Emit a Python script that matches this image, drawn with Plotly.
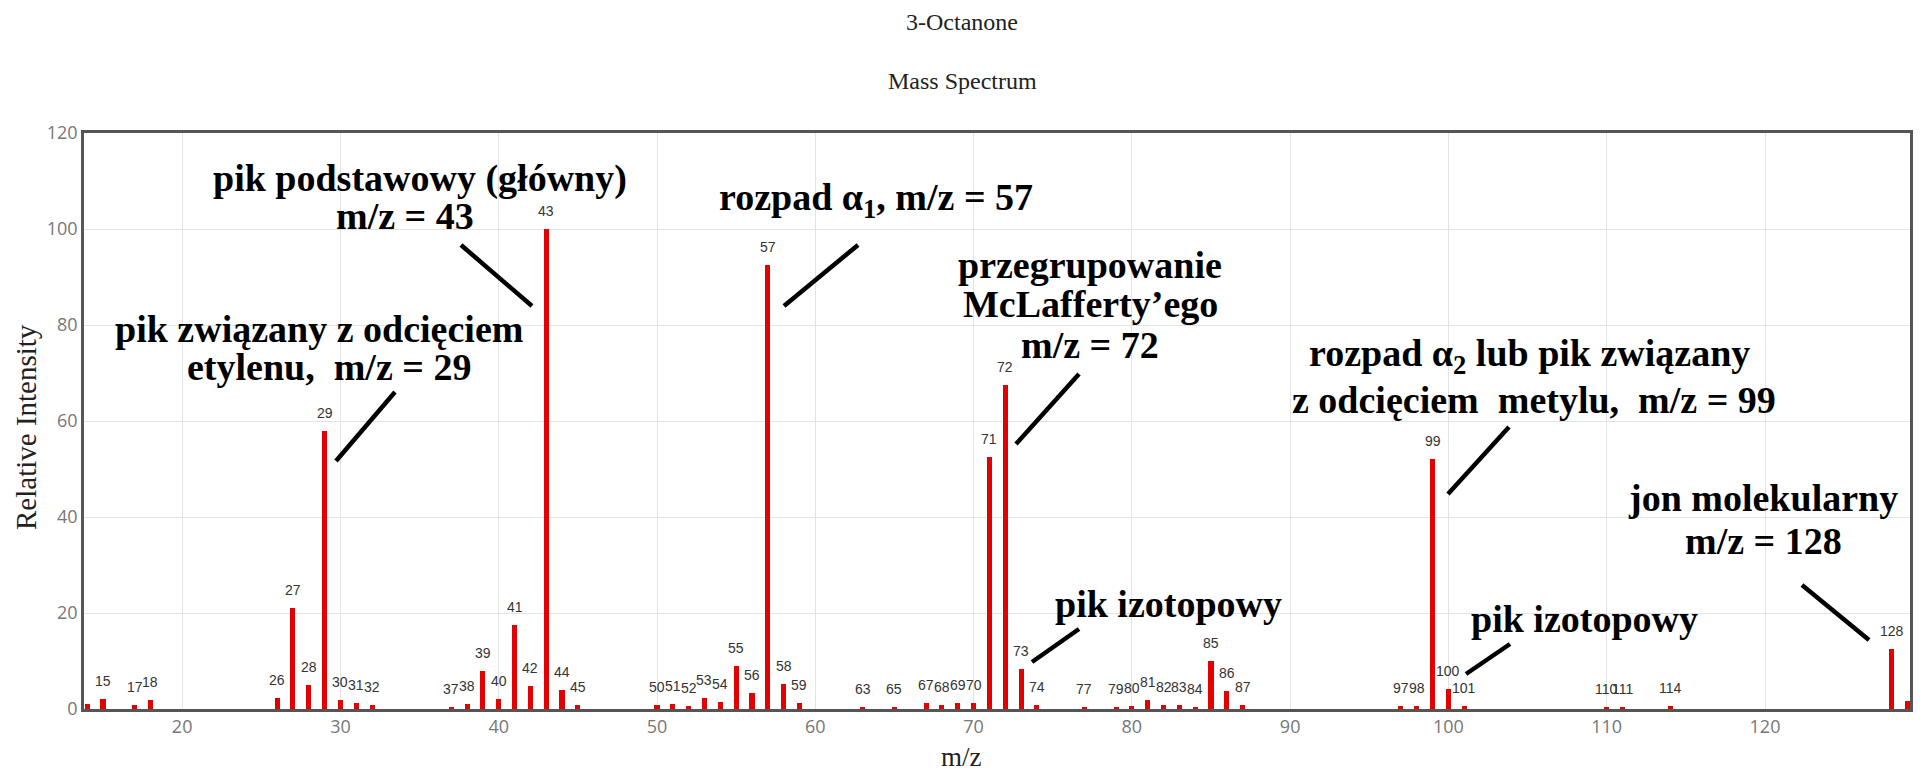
import plotly.graph_objects as go

# ---- data ----
mz = [14, 15, 17, 18, 26, 27, 28, 29, 30, 31, 32, 37, 38, 39, 40, 41, 42, 43, 44, 45,
      50, 51, 52, 53, 54, 55, 56, 57, 58, 59, 63, 65, 67, 68, 69, 70, 71, 72, 73, 74,
      77, 79, 80, 81, 82, 83, 84, 85, 86, 87, 97, 98, 99, 100, 101, 110, 111, 114, 128, 129]
intensity = [1.0, 2.0, 0.8, 1.8, 2.2, 21.0, 5.0, 58.0, 1.8, 1.2, 0.8, 0.5, 1.0, 8.0, 2.0, 17.5, 4.7, 100.0, 4.0, 0.9,
             0.8, 1.0, 0.6, 2.2, 1.5, 9.0, 3.3, 92.5, 5.2, 1.2, 0.4, 0.5, 1.3, 0.9, 1.3, 1.3, 52.5, 67.5, 8.3, 0.8,
             0.4, 0.5, 0.6, 1.9, 0.8, 0.8, 0.5, 10.0, 3.7, 0.8, 0.7, 0.7, 52.0, 4.2, 0.6, 0.5, 0.4, 0.6, 12.5, 1.6]
labeled = [m for m in mz if m not in (14, 129)]

title_lines = ["3-Octanone", "Mass Spectrum"]
x_title = "m/z"
y_title = "Relative Intensity"

# ---- layout geometry (pixels, in page coordinates; page body has an 8px margin) ----
OFF = 8
W, H = 1922 - OFF, 777 - OFF
PL, PR, PT, PB = 84, 1910, 133, 709          # plot box in page pixels
L, T = PL - OFF, PT - OFF
R, B = W - (PR - OFF), H - (PB - OFF)
PW, PH = PR - PL, PB - PT


def px(x):
    return (x - PL) / PW


def py(y):
    return (PB - y) / PH


SERIF = "Liberation Serif, Times New Roman, serif"

fig = go.Figure()
fig.add_trace(go.Bar(x=mz, y=intensity, width=0.32,
                     marker=dict(color="rgb(228,0,0)", line=dict(width=0)),
                     hoverinfo="x+y", showlegend=False))

annotations = []
for m, v in zip(mz, intensity):
    if m in labeled:
        annotations.append(dict(x=m, y=v, xref="x", yref="y", text=str(m), showarrow=False,
                                yanchor="bottom", yshift=8,
                                font=dict(family="Liberation Sans", size=14, color="#333")))

for txt, yy in zip(title_lines, [22, 81]):
    annotations.append(dict(x=px(962), y=py(yy), xref="paper", yref="paper", text=txt,
                            showarrow=False, xanchor="center", yanchor="middle",
                            font=dict(family=SERIF, size=24, color="#222")))

# axis titles as free text (keeps plot area fixed)
annotations.append(dict(x=px(961), y=py(757), xref="paper", yref="paper", text=x_title,
                        showarrow=False, xanchor="center", yanchor="middle",
                        font=dict(family=SERIF, size=27, color="#222")))
annotations.append(dict(x=px(26), y=py(427), xref="paper", yref="paper", text=y_title,
                        showarrow=False, xanchor="center", yanchor="middle", textangle=-90,
                        font=dict(family=SERIF, size=29, color="#222")))

AF = dict(family=SERIF, size=38, color="black")
callouts = [
    ("<b>pik podstawowy (główny)</b>", 420, 178),
    ("<b>m/z = 43</b>", 405, 216),
    ("<b>rozpad α<sub>1</sub>, m/z = 57</b>", 876, 200),
    ("<b>przegrupowanie</b>", 1090, 265),
    ("<b>McLafferty’ego</b>", 1090, 304),
    ("<b>m/z = 72</b>", 1090, 345),
    ("<b>pik związany z odcięciem</b>", 319, 329),
    ("<b>etylenu,  m/z = 29</b>", 329, 367),
    ("<b>rozpad α<sub>2</sub> lub pik związany</b>", 1529, 356),
    ("<b>z odcięciem  metylu,  m/z = 99</b>", 1534, 400),
    ("<b>jon molekularny</b>", 1763, 498),
    ("<b>m/z = 128</b>", 1763, 541),
    ("<b>pik izotopowy</b>", 1168, 604),
    ("<b>pik izotopowy</b>", 1584, 619),
]
for txt, xx, yy in callouts:
    annotations.append(dict(x=px(xx), y=py(yy), xref="paper", yref="paper", text=txt,
                            showarrow=False, xanchor="center", yanchor="middle", font=AF))

lines = [
    (461, 245, 532, 306),
    (858, 245, 784, 306),
    (1079, 374, 1016, 444),
    (395, 392, 336, 461),
    (1509, 427, 1448, 494),
    (1802, 585, 1869, 640),
    (1079, 629, 1032, 662),
    (1510, 644, 1466, 674),
]
shapes = [dict(type="line", xref="paper", yref="paper", x0=px(a), y0=py(b), x1=px(c), y1=py(d),
               line=dict(color="black", width=4.5)) for a, b, c, d in lines]

fig.update_layout(
    width=W, height=H,
    margin=dict(l=L, r=R, t=T, b=B, pad=0),
    paper_bgcolor="white", plot_bgcolor="white",
    annotations=annotations, shapes=shapes,
    bargap=0,
    xaxis=dict(range=[13.8, 129.16], dtick=10, tick0=0, showgrid=True, gridcolor="#e3e3e3", gridwidth=1,
               zeroline=False, showline=True, mirror=True, linecolor="#555", linewidth=2.5,
               ticks="", automargin=False,
               tickfont=dict(family="Open Sans", size=18, color="#777")),
    yaxis=dict(range=[0, 120], dtick=20, showgrid=True, gridcolor="#e3e3e3", gridwidth=1,
               zeroline=False, showline=True, mirror=True, linecolor="#555", linewidth=2.5,
               ticks="", automargin=False,
               tickfont=dict(family="Open Sans", size=18, color="#777")),
)

fig.write_html("out.html")
